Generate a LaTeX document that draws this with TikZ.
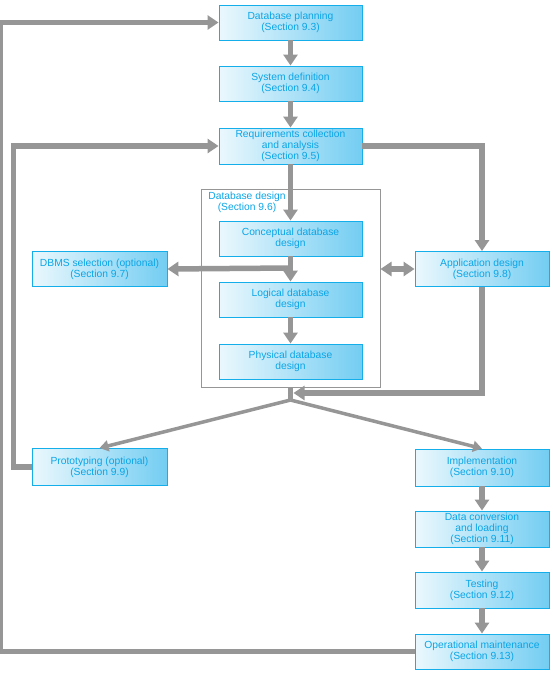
\documentclass[tikz,border=0pt]{standalone}
\usepackage{fontspec}
\setmainfont{Liberation Sans}
\usetikzlibrary{arrows.meta,positioning}

\definecolor{boxedge}{RGB}{20,175,235}
\definecolor{boxlight}{RGB}{235,248,253}
\definecolor{boxdark}{RGB}{115,205,242}
\definecolor{boxtext}{RGB}{10,165,230}
\definecolor{arrgray}{RGB}{150,150,150}

\begin{document}
\begin{tikzpicture}
        [x=1pt,y=-1pt,>={Triangle[width=14pt,length=11pt]},
         stage/.style={draw=boxedge,line width=0.9pt,left color=boxlight,right color=boxdark,
             text=boxtext,font=\fontsize{10.3}{10.8}\selectfont,align=center,
             minimum height=35pt,inner sep=1pt},
         mid/.style={stage,minimum width=143pt},
         side/.style={stage,minimum width=135pt},
         arr/.style={draw=arrgray,line width=5.5pt,->},
         fork/.style={draw=arrgray,line width=3.5pt,-{Triangle[width=11pt,length=9pt]}}]

        \useasboundingbox (0,0) rectangle (553,675);

        % database design frame
        \node[draw=arrgray,line width=1pt,minimum width=179pt,minimum height=198pt] (design) at (290.5,288) {};
        \node[text=boxtext,font=\fontsize{10.3}{10.8}\selectfont,align=center] (designlbl) at (247,202) {Database design\\(Section 9.6)};

        % main column
        \node[mid] (plan) at (290.5,22.5) {Database planning\\(Section 9.3)};
        \node[mid] (sysdef) at (290.5,83.5) {System definition\\(Section 9.4)};
        \node[mid,minimum height=36pt] (req) at (290.5,146) {Requirements collection\\and analysis\\(Section 9.5)};
        \node[mid] (concept) at (290.5,238.5) {Conceptual database\\design};
        \node[mid] (logical) at (290.5,299.5) {Logical database\\design};
        \node[mid] (physical) at (290.5,361.5) {Physical database\\design};

        % side boxes
        \node[side] (dbms) at (99.5,269) {DBMS selection (optional)\\(Section 9.7)};
        \node[side,minimum width=134pt] (appdes) at (482,269) {Application design\\(Section 9.8)};
        \node[side,minimum height=37pt] (proto) at (99.5,467) {Prototyping (optional)\\(Section 9.9)};
        \node[side,minimum width=134pt,minimum height=37pt] (impl) at (482,467.5) {Implementation\\(Section 9.10)};
        \node[side,minimum width=134pt,minimum height=36pt] (convert) at (482,529) {Data conversion\\and loading\\(Section 9.11)};
        \node[side,minimum width=134pt,minimum height=36pt] (test) at (482,590) {Testing\\(Section 9.12)};
        \node[side,minimum width=134pt] (maint) at (482,651.5) {Operational maintenance\\(Section 9.13)};

        \coordinate (split) at (290.5,268);
        \coordinate (join) at (290.5,393);
        \coordinate (branch) at (290.5,400);
        \coordinate (edge) at (0.5,0);

        % flow
        \draw[arr] (plan) -- (sysdef);
        \draw[arr] (sysdef) -- (req);
        \draw[arr] (req) -- (concept);
        \draw[arr] (concept) -- (logical);
        \draw[arr] (logical) -- (physical);
        \draw[arr] (split) -- (dbms.east);
        \draw[arr,<->] (design.east |- appdes.west) -- (appdes.west);
        \draw[arr] (req.east) -| (appdes.north);
        \draw[arr,shorten >=3pt] (appdes.south) |- (join);
        \draw[draw=arrgray,line width=5.5pt] (design.south) -- (branch);
        \draw[fork] (branch) -- (proto.north);
        \draw[fork] (branch) -- (impl.north);
        \draw[arr] (impl) -- (convert);
        \draw[arr] (convert) -- (test);
        \draw[arr] (test) -- (maint);

        % feedback loops
        \draw[arr] (proto.west) -- ++(-18,0) |- (req.west);
        \draw[arr] (maint.west) -- (maint.west -| edge) |- (plan.west);

    \end{tikzpicture}
\end{document}
